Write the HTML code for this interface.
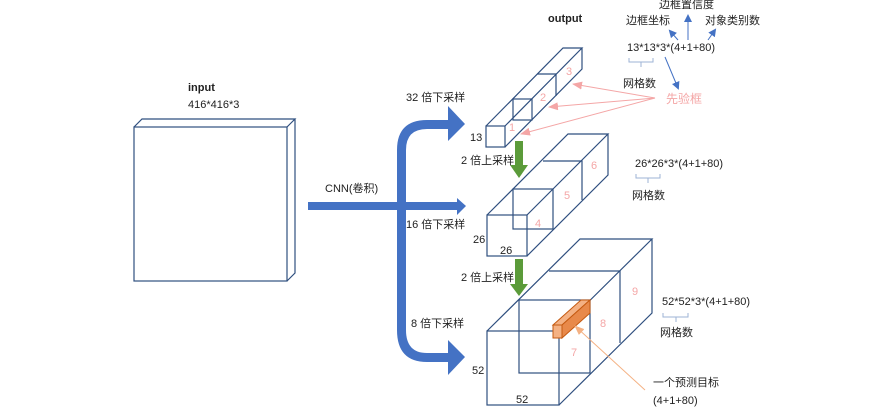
<!DOCTYPE html>
<html><head><meta charset="utf-8"><style>
html,body{margin:0;padding:0;background:#fff;}
svg{display:block;}
text{font-family:"Liberation Sans","Noto Sans CJK SC",sans-serif;font-size:11px;fill:#222;}
.p{fill:#f4a6a6;}
</style></head><body>
<svg width="875" height="415" viewBox="0 0 875 415" xmlns="http://www.w3.org/2000/svg">
<defs>
<marker id="ba" markerWidth="8" markerHeight="8" refX="6" refY="4" orient="auto" markerUnits="userSpaceOnUse"><path d="M0,0 L8,4 L0,8 z" fill="#4472c4"/></marker>
<marker id="pa" markerWidth="10" markerHeight="8" refX="9" refY="4" orient="auto" markerUnits="userSpaceOnUse"><path d="M0,0 L10,4 L0,8 z" fill="#f4a6a6"/></marker>
<marker id="oa" markerWidth="10" markerHeight="8" refX="9" refY="4" orient="auto" markerUnits="userSpaceOnUse"><path d="M0,0 L10,4 L0,8 z" fill="#f4b183"/></marker>
</defs>
<g fill="none" stroke="#2f4f7f" stroke-width="1.2">
<rect x="134" y="127" width="153" height="154" fill="#fff"/>
<path d="M134,127 L142,119 L295,119 L287,127 M295,119 L295,273 L287,281"/>
</g>
<g fill="#4472c4">
<path d="M397,330 L397,150 Q397,120 427,120 L448,120 L448,106 L465,124 L448,141 L448,129 L427,129 Q406,129 406,150 L406,330 Q406,353 427,353 L448,353 L448,340 L465,357 L448,375 L448,362 L427,362 Q397,362 397,330 Z"/>
<path d="M308,202 L457,202 L457,198 L466,206 L457,215 L457,210 L308,210 Z"/>
</g>
<g fill="#5b9b3a">
<path d="M515,141 L523,141 L523,165 L528,165 L519,178 L510,165 L515,165 Z"/>
<path d="M515,259 L523,259 L523,284 L528,284 L519,296 L510,284 L515,284 Z"/>
</g>
<g fill="none" stroke="#2f4f7f" stroke-width="1.2">
<rect x="486" y="126" width="19" height="21"/>
<path d="M486,126 L563,48 L582,48 L505,126 M582,48 L582,69 L505,147"/>
<rect x="513" y="99" width="19" height="21"/>
<path d="M537,74 L556,74 L556,96"/>
<rect x="487" y="215" width="40" height="41"/>
<path d="M487,215 L568,134 L608,134 L527,215 M608,134 L608,175 L527,256"/>
<rect x="513" y="189" width="40" height="40"/>
<path d="M543,161 L582,161 L582,200"/>
<rect x="487" y="331" width="72" height="74"/>
<path d="M487,331 L580,239 L652,239 L559,331 M652,239 L652,313 L559,405"/>
<rect x="519" y="300" width="71" height="73"/>
<path d="M549,271 L620,271 L620,343"/>
</g>
<g stroke="#c55a11" stroke-width="1" fill="#f4b183">
<path d="M553,325 L581,300 L590,300 L562,325 Z"/>
<path d="M562,325 L590,300 L590,313 L562,338 Z" fill="#e8894a"/>
<rect x="553" y="325" width="9" height="13"/>
</g>
<g stroke="#f4a6a6" stroke-width="1" fill="none">
<line x1="655" y1="98" x2="573" y2="84" marker-end="url(#pa)"/>
<line x1="655" y1="98" x2="549" y2="107" marker-end="url(#pa)"/>
<line x1="655" y1="98" x2="521" y2="134" marker-end="url(#pa)"/>
</g>
<line x1="645" y1="390" x2="575" y2="326" stroke="#f4b183" stroke-width="1" marker-end="url(#oa)"/>
<g stroke="#4472c4" stroke-width="1" fill="none">
<line x1="678" y1="40" x2="670" y2="31" marker-end="url(#ba)"/>
<line x1="688" y1="40" x2="688" y2="16" marker-end="url(#ba)"/>
<line x1="708" y1="40" x2="715" y2="30" marker-end="url(#ba)"/>
<line x1="665" y1="57" x2="678" y2="88" marker-end="url(#ba)"/>
</g>
<g stroke="#9db3d6" stroke-width="1" fill="none">
<path d="M629,58 L629,62 L653,62 L653,58 M641,62 L641,67"/>
<path d="M636,174 L636,178 L660,178 L660,174 M648,178 L648,183"/>
<path d="M663,313 L663,317 L688,317 L688,313 M676,317 L676,322"/>
</g>
<text x="188" y="91" font-weight="bold">input</text>
<text x="188" y="108">416*416*3</text>
<text x="325" y="192">CNN(卷积)</text>
<text x="406" y="101">32 倍下采样</text>
<text x="406" y="228">16 倍下采样</text>
<text x="411" y="327">8 倍下采样</text>
<text x="461" y="164">2 倍上采样</text>
<text x="461" y="281">2 倍上采样</text>
<text x="548" y="22" font-weight="bold">output</text>
<text x="470" y="141">13</text>
<text x="473" y="243">26</text>
<text x="500" y="254">26</text>
<text x="472" y="374">52</text>
<text x="516" y="403">52</text>
<text x="659" y="8">边框置信度</text>
<text x="626" y="24">边框坐标</text>
<text x="705" y="24">对象类别数</text>
<text x="627" y="51">13*13*3*(4+1+80)</text>
<text x="623" y="87">网格数</text>
<text x="666" y="103" class="p" style="font-size:12px">先验框</text>
<text x="635" y="167">26*26*3*(4+1+80)</text>
<text x="632" y="199">网格数</text>
<text x="662" y="305">52*52*3*(4+1+80)</text>
<text x="660" y="336">网格数</text>
<text x="653" y="386">一个预测目标</text>
<text x="653" y="404">(4+1+80)</text>
<text x="509" y="131" class="p">1</text>
<text x="540" y="101" class="p">2</text>
<text x="566" y="75" class="p">3</text>
<text x="535" y="227" class="p">4</text>
<text x="564" y="199" class="p">5</text>
<text x="591" y="169" class="p">6</text>
<text x="571" y="356" class="p">7</text>
<text x="600" y="327" class="p">8</text>
<text x="632" y="295" class="p">9</text>
</svg>
</body></html>
